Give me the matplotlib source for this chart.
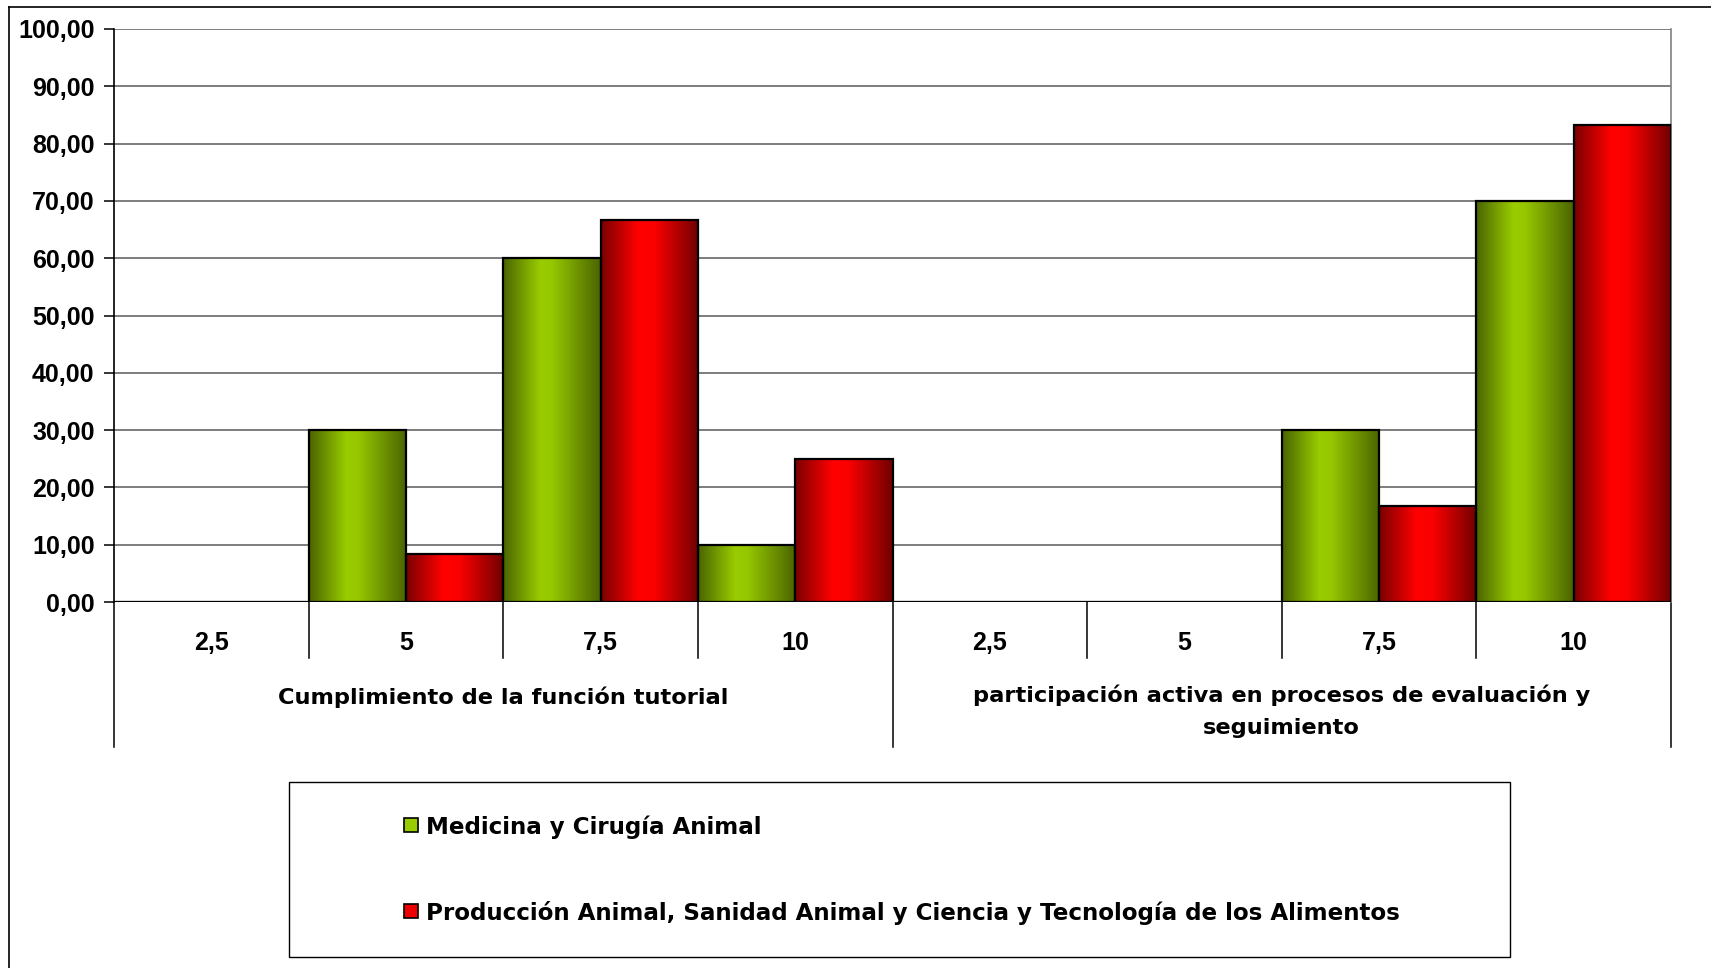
import numpy as np
import matplotlib
matplotlib.use("Agg")
import matplotlib.pyplot as plt
from matplotlib.patches import Rectangle
from matplotlib.colors import LinearSegmentedColormap
import matplotlib.transforms as mtransforms

plt.rcParams['font.family'] = ['Liberation Sans', 'DejaVu Sans']
plt.rcParams['font.weight'] = 'bold'
TEXT_FONT = ['DejaVu Sans']

groups = ["Cumplimiento de la función tutorial",
          "participación activa en procesos de evaluación y\nseguimiento"]
scores = ["2,5", "5", "7,5", "10"]
series_names = ["Medicina y Cirugía Animal",
                "Producción Animal, Sanidad Animal y Ciencia y Tecnología de los Alimentos"]
medicina = [0, 30, 60, 10, 0, 0, 30, 70]
produccion = [0, 8.33, 66.67, 25, 0, 0, 16.67, 83.33]
yticks = [0, 10, 20, 30, 40, 50, 60, 70, 80, 90, 100]

W, H = 1711, 968
fig = plt.figure(figsize=(W / 100, H / 100), dpi=100)
fig.patch.set_facecolor('white')

L, R, T, B = 114, 1671, 29, 602
ax = fig.add_axes([L / W, 1 - B / H, (R - L) / W, (B - T) / H])
n = len(medicina)

# gridlines
for v in yticks[1:]:
    ax.axhline(v, color='#5a5a5a', lw=1.1, zorder=0)

for s in ['top', 'bottom']:
    ax.spines[s].set_visible(False)
ax.spines['right'].set_color('#808080')
ax.spines['right'].set_linewidth(1.2)
ax.spines['left'].set_color('black')
ax.spines['left'].set_linewidth(1.2)
ax.axhline(0, color='black', lw=1.5, zorder=5)

ax.set_yticks(yticks)
ax.set_yticklabels([f"{v:.2f}".replace('.', ',') for v in yticks], fontsize=18, fontweight='bold')
ax.tick_params(axis='y', length=7, width=1.1, color='black', pad=7)
ax.set_xticks([])

green = LinearSegmentedColormap.from_list('g', [(0, '#4a6400'), (0.38, '#99cc00'), (0.5, '#96c800'), (1, '#4a6400')])
red = LinearSegmentedColormap.from_list('r', [(0, '#7a0000'), (0.38, '#ff0000'), (0.55, '#fa0000'), (1, '#700000')])
grad = np.linspace(0, 1, 256).reshape(1, -1)

bw = 0.5
x = np.arange(n)
for vals, cmap, off in [(medicina, green, -0.25), (produccion, red, 0.25)]:
    bars = ax.bar(x + off, vals, width=bw, facecolor='none', edgecolor='black', linewidth=1.6, zorder=3)
    for b in bars:
        h = b.get_height()
        if h <= 0:
            continue
        x0 = b.get_x()
        ax.imshow(grad, cmap=cmap, aspect='auto', extent=[x0, x0 + bw, 0, h], zorder=2, interpolation='bilinear')
ax.set_xlim(-0.5, n - 0.5)
ax.set_ylim(0, 100)

# category axis
trans = mtransforms.blended_transform_factory(ax.transData, ax.transAxes)
ph = B - T
def fy(py):
    return -(py - B) / ph
for i in range(n + 1):
    xv = i - 0.5
    y1 = fy(747) if i % 4 == 0 else fy(658)
    ax.plot([xv, xv], [0, y1], transform=trans, color='black', lw=1.1, clip_on=False)
for i in range(n):
    ax.text(i, fy(643), scores[i % 4], transform=trans, ha='center', va='center',
            fontsize=18, fontweight='bold')
for g, name in enumerate(groups):
    cy = fy(697) if '\n' not in name else fy(711)
    ax.text(g * 4 + 1.5, cy, name, transform=trans, ha='center', va='center',
            fontsize=16.2, fontweight='bold', linespacing=1.74, family=TEXT_FONT)

# legend box
fig.patches.append(Rectangle((289 / W, 1 - 957 / H), (1510 - 289) / W, (957 - 782) / H,
                             transform=fig.transFigure, facecolor='white', edgecolor='black', lw=1.0))
leg_cols = ['#99cc00', '#ee0000']
for k, (name, col) in enumerate(zip(series_names, leg_cols)):
    yc = [825, 911][k]
    fig.patches.append(Rectangle((404 / W, 1 - (yc + 7) / H), 14 / W, 14 / H, transform=fig.transFigure,
                                 facecolor=col, edgecolor='black', lw=1.2))
    fig.text(426 / W, 1 - (yc + 2) / H, name, ha='left', va='center', fontsize=16.6, fontweight='bold',
             family=TEXT_FONT)

# outer border (top & left)
fig.lines.append(plt.Line2D([9 / W, 1], [1 - 7 / H, 1 - 7 / H], transform=fig.transFigure, color='black', lw=1.2))
fig.lines.append(plt.Line2D([9 / W, 9 / W], [0, 1 - 7 / H], transform=fig.transFigure, color='black', lw=1.2))

fig.savefig('out.png', dpi=100, facecolor='white')
